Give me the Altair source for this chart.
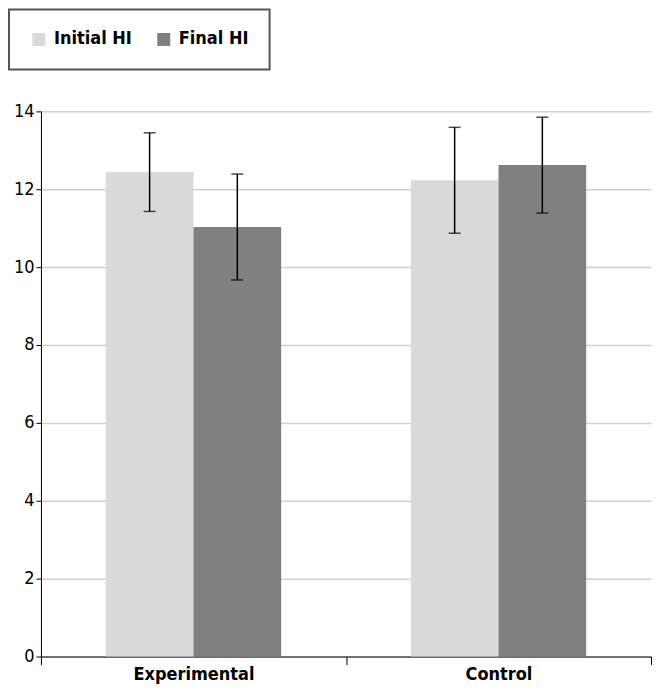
import altair as alt
import pandas as pd

groups = ["Experimental", "Experimental", "Control", "Control"]
series = ["Initial HI", "Final HI", "Initial HI", "Final HI"]
means = [12.44, 11.03, 12.23, 12.62]
errors = [1.01, 1.36, 1.36, 1.23]

df = pd.DataFrame({"group": groups, "series": series, "mean": means, "err": errors})
df["lo"] = df["mean"] - df["err"]
df["hi"] = df["mean"] + df["err"]

FONT = "DejaVu Sans Condensed, Liberation Sans, sans-serif"
group_order = ["Experimental", "Control"]
series_order = ["Initial HI", "Final HI"]

x_enc = alt.X(
    "group:N",
    sort=group_order,
    title=None,
    scale=alt.Scale(paddingInner=0, paddingOuter=0),
    axis=alt.Axis(
        labelAngle=0, labelFont=FONT, labelFontSize=18, labelFontWeight="bold",
        labelColor="black", domainColor="black", tickColor="black", tickSize=8,
        tickBand="extent", labelPadding=1, grid=False,
    ),
)
xoff = alt.XOffset("series:N", sort=series_order, scale=alt.Scale(paddingInner=0, paddingOuter=0.739))

bars = alt.Chart(df).mark_bar(stroke=None).encode(
    x=x_enc,
    xOffset=xoff,
    y=alt.Y(
        "mean:Q",
        title=None,
        scale=alt.Scale(domain=[0, 14]),
        axis=alt.Axis(
            values=[0, 2, 4, 6, 8, 10, 12, 14], labelFont=FONT, labelFontSize=18,
            labelColor="black", domainColor="black", tickColor="black", tickSize=5,
            gridColor="#d0d0d0", gridWidth=1.5, labelPadding=2,
        ),
    ),
    color=alt.Color(
        "series:N",
        sort=series_order,
        scale=alt.Scale(domain=series_order, range=["#d9d9d9", "#808080"]),
        legend=alt.Legend(
            title=None, orient="none", direction="horizontal", legendX=-32, legendY=-102,
            symbolType="square", symbolSize=169, symbolStrokeWidth=0, labelOffset=6,
            labelFont=FONT, labelFontSize=18, labelFontWeight="bold", labelColor="black",
            columnPadding=22, padding=21, strokeColor="#555555",
        ),
    ),
)

rules = alt.Chart(df).mark_rule(color="black", strokeWidth=1.5).encode(
    x=alt.X("group:N", sort=group_order),
    xOffset=xoff,
    y="lo:Q",
    y2="hi:Q",
)
tick_lo = alt.Chart(df).mark_tick(color="black", thickness=1.5, size=12, orient="horizontal").encode(
    x=alt.X("group:N", sort=group_order),
    xOffset=xoff,
    y="lo:Q",
)
tick_hi = alt.Chart(df).mark_tick(color="black", thickness=1.5, size=12, orient="horizontal").encode(
    x=alt.X("group:N", sort=group_order),
    xOffset=xoff,
    y="hi:Q",
)

chart = alt.layer(bars, rules, tick_lo, tick_hi).properties(
    width=611, height=546, padding=0
).configure_view(stroke=None).configure_legend(strokeWidth=2)

chart.save("out.html", embed_options={"renderer": "svg", "actions": False})
